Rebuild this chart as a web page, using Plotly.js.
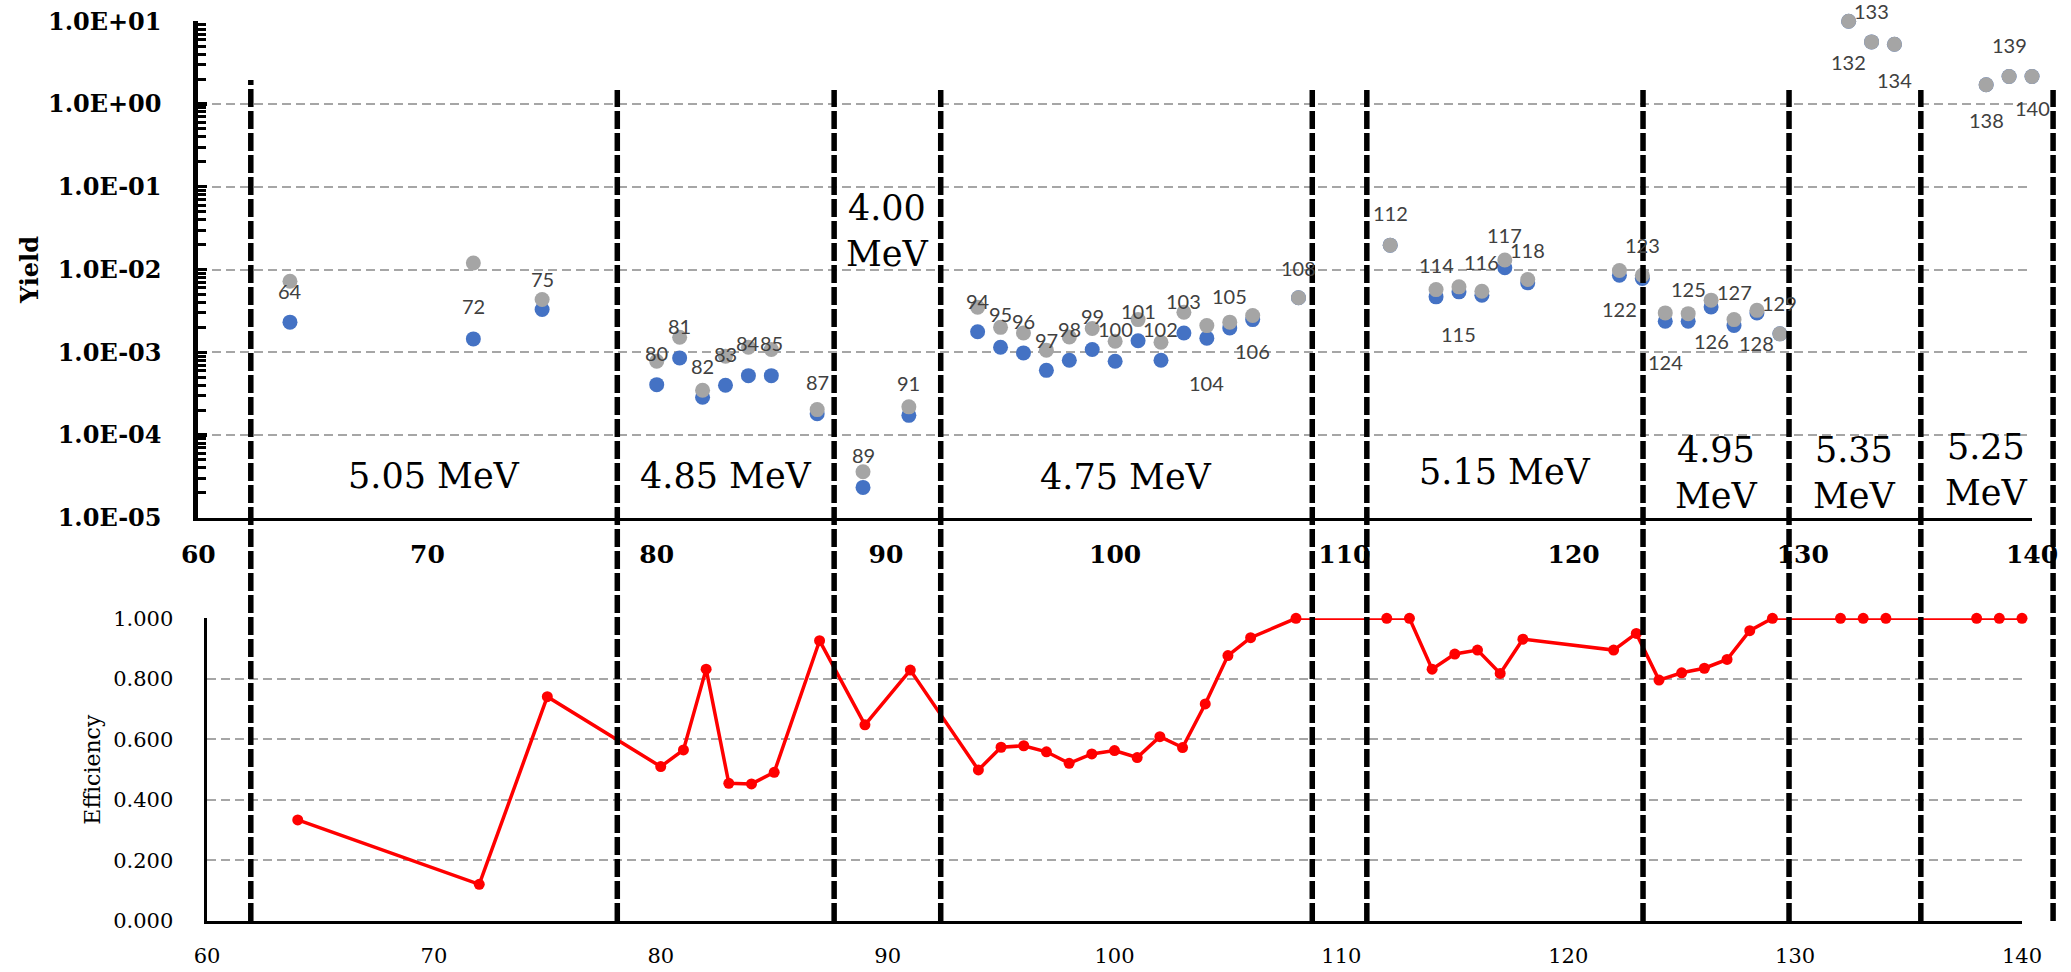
<!DOCTYPE html>
<html><head><meta charset="utf-8">
<script src="https://cdn.plot.ly/plotly-3.0.1.min.js"></script>
<style>html,body{margin:0;padding:0;background:#fff;} #chart{width:2071px;height:972px;}</style>
</head><body><div id="chart"></div>
<script>
// ---------- data ----------
const runs = [64,72,75,80,81,82,83,84,85,87,89,91,94,95,96,97,98,99,100,101,102,103,104,105,106,108,112,114,115,116,117,118,122,123,124,125,126,127,128,129,132,133,134,138,139,140];
const totalYield = [7.2e-3,1.2e-2,4.34e-3,7.8e-4,1.52e-3,3.47e-4,8.95e-4,1.15e-3,1.08e-3,2.03e-4,3.6e-5,2.19e-4,
  3.5e-3,2.0e-3,1.71e-3,1.06e-3,1.53e-3,1.94e-3,1.36e-3,2.48e-3,1.32e-3,3.05e-3,2.1e-3,2.31e-3,2.78e-3,4.55e-3,
  1.97e-2,5.72e-3,6.17e-3,5.46e-3,1.30e-2,7.57e-3,9.72e-3,8.53e-3,2.99e-3,2.93e-3,4.26e-3,2.48e-3,3.21e-3,1.67e-3,
  10.0,5.62,5.26,1.71,2.15,2.15];
const detectedYield = [2.31e-3,1.45e-3,3.28e-3,4.06e-4,8.55e-4,2.86e-4,3.99e-4,5.22e-4,5.22e-4,1.81e-4,2.33e-5,1.73e-4,
  1.77e-3,1.15e-3,9.83e-4,6.05e-4,8.0e-4,1.08e-3,7.78e-4,1.38e-3,8.0e-4,1.71e-3,1.48e-3,1.97e-3,2.48e-3,4.55e-3,
  1.97e-2,4.67e-3,5.37e-3,4.89e-3,1.05e-2,6.9e-3,8.53e-3,7.78e-3,2.37e-3,2.37e-3,3.53e-3,2.11e-3,2.99e-3,1.67e-3,
  10.0,5.62,5.26,1.71,2.15,2.15];
const effRuns = [64,72,75,80,81,82,83,84,85,87,89,91,94,95,96,97,98,99,100,101,102,103,104,105,106,108,112,113,114,115,116,117,118,122,123,124,125,126,127,128,129,132,133,134,138,139,140];
const efficiency = [0.334,0.121,0.741,0.510,0.565,0.832,0.455,0.453,0.491,0.926,0.648,0.829,
  0.499,0.574,0.579,0.559,0.521,0.552,0.563,0.540,0.609,0.573,0.717,0.877,0.936,1.0,
  1.0,1.0,0.832,0.882,0.895,0.818,0.931,0.895,0.950,0.796,0.820,0.835,0.864,0.959,1.0,
  1.0,1.0,1.0,1.0,1.0,1.0];
const yieldTickVals = [1e-5,1e-4,1e-3,1e-2,1e-1,1,10];
const yieldTickText = ["1.0E-05","1.0E-04","1.0E-03","1.0E-02","1.0E-01","1.0E+00","1.0E+01"];
const effTickVals = [0,0.2,0.4,0.6,0.8,1.0];
const effTickText = ["0.000","0.200","0.400","0.600","0.800","1.000"];
const boundaries = [62.29,78.28,87.74,92.39,108.60,110.98,123.03,129.40,135.15,140.92];
const energyLabels = ["5.05 MeV","4.85 MeV","4.00<br>MeV","4.75 MeV","","5.15 MeV","4.95<br>MeV","5.35<br>MeV","5.25<br>MeV"];

// ---------- layout / style (positions in px of the 2071x972 figure) ----------
const W = 2071, H = 972;
const labelShift = [-31,-33,-31,-32,-32,-31,-31,-33,-33,-32,-32,-32,-31,-33,-32,-30,-31,-34,-32,-30,-31,-32,45,-32,31,-30,
  -32,-32,42,-33,-33,-33,34,-34,41,-32,34,-33,30,-31,41,-31,36,35,-31,32];
const energyLabelY = [476,476,231,477,0,472,473,473,470];
const topX = [198.3/W, 2032/W];
const topY = [1-517.8/H, 1-21.2/H];
const toPaperX = v => topX[0] + (v-60)/80*(topX[1]-topX[0]);
const serif = "DejaVu Serif";
const gridDash = "9px,5px";
// minor log tick positions (1..9 in each decade) for the ruler-like yield axis
const minorTicks = [];
for (let e = -5; e < 1; e++) for (let m = 1; m <= 9; m++) minorTicks.push(m * Math.pow(10, e));
minorTicks.push(10);

const traces = [
  {x: runs, y: detectedYield, type:'scatter', mode:'markers', name:'Detected yield', xaxis:'x', yaxis:'y',
   marker:{color:'#4472c4', size:15, line:{width:0}}, cliponaxis:false},
  {x: runs, y: totalYield, type:'scatter', mode:'markers', name:'Total yield', xaxis:'x', yaxis:'y',
   marker:{color:'#a5a5a5', size:15, line:{width:0}}, cliponaxis:false},
  {x: runs, y: totalYield, type:'scatter', mode:'markers', name:'ticks', xaxis:'x', yaxis:'y3',
   marker:{opacity:0}, hoverinfo:'skip', showlegend:false},
  {x: effRuns, y: efficiency, type:'scatter', mode:'lines+markers', name:'Efficiency', xaxis:'x2', yaxis:'y2',
   line:{color:'#ff0000', width:3.5}, marker:{color:'#ff0000', size:11}, cliponaxis:false}
];

const annotations = [];
runs.forEach((r,i) => {
  annotations.push({x:r, y:Math.log10(detectedYield[i]), xref:'x', yref:'y', text:String(r), showarrow:false,
    xanchor:'center', yanchor:'middle', yshift:-labelShift[i], font:{family:'Lato', size:20, color:'#404040'}});
});
energyLabels.forEach((t,i) => {
  if (!t) return;
  annotations.push({x:toPaperX((boundaries[i]+boundaries[i+1])/2), y:1-energyLabelY[i]/H, xref:'paper', yref:'paper',
    text:t, showarrow:false, xanchor:'center', yanchor:'middle', font:{family:serif, size:35, color:'#000'}});
});

const shapes = boundaries.map((b,i) => ({type:'line', xref:'paper', yref:'paper',
  x0:toPaperX(b), x1:toPaperX(b), y0:1-921/H, y1:1-(i===0?80:90)/H, layer:'above',
  line:{color:'#000', width:5.5, dash:'18px,4px'}}));

const layout = {
  width:W, height:H, margin:{l:0,r:0,t:0,b:0}, paper_bgcolor:'#fff', plot_bgcolor:'#fff', showlegend:false,
  xaxis:{domain:topX, range:[60,140], anchor:'y', tick0:60, dtick:10, showgrid:false, zeroline:false,
    showline:true, linecolor:'#000', linewidth:3.5, ticks:'', ticklabelstandoff:12,
    tickfont:{family:serif, size:25, color:'#000', weight:'bold'}},
  yaxis:{domain:topY, type:'log', range:[-5,1], anchor:'x', tickmode:'array',
    tickvals:yieldTickVals, ticktext:yieldTickText, showgrid:true, gridcolor:'#a6a6a6', gridwidth:2, griddash:gridDash,
    zeroline:false, showline:true, linecolor:'#000', linewidth:5, ticks:'inside', ticklen:9, tickwidth:3.5, tickcolor:'#000',
    ticklabelstandoff:27, tickfont:{family:serif, size:24, color:'#000', weight:'bold'},
    title:{text:'Yield', font:{family:serif, size:24, color:'#000', weight:'bold'}, standoff:4}},
  yaxis3:{domain:topY, type:'log', range:[-5,1], overlaying:'y', anchor:'x', side:'left', tickmode:'array',
    tickvals:minorTicks, showticklabels:false, showgrid:false, zeroline:false, showline:false,
    ticks:'inside', ticklen:8, tickwidth:3, tickcolor:'#000'},
  xaxis2:{domain:[207/W, 2022/W], range:[60,140], anchor:'y2', tick0:60, dtick:10, showgrid:false, zeroline:false,
    showline:true, linecolor:'#000', linewidth:3, ticks:'', ticklabelstandoff:14,
    tickfont:{family:serif, size:21, color:'#000'}},
  yaxis2:{domain:[1-921/H, 1-618.3/H], range:[0,1], anchor:'x2', tickmode:'array', tickvals:effTickVals, ticktext:effTickText,
    showgrid:true, gridcolor:'#a6a6a6', gridwidth:2, griddash:gridDash, zeroline:false,
    showline:true, linecolor:'#000', linewidth:3.5, ticks:'', ticklabelstandoff:26,
    tickfont:{family:serif, size:21, color:'#000'},
    title:{text:'Efficiency', font:{family:serif, size:22, color:'#000'}, standoff:7}},
  annotations: annotations,
  shapes: shapes
};
Plotly.newPlot('chart', traces, layout, {staticPlot:true, displayModeBar:false});
</script>
</body></html>
